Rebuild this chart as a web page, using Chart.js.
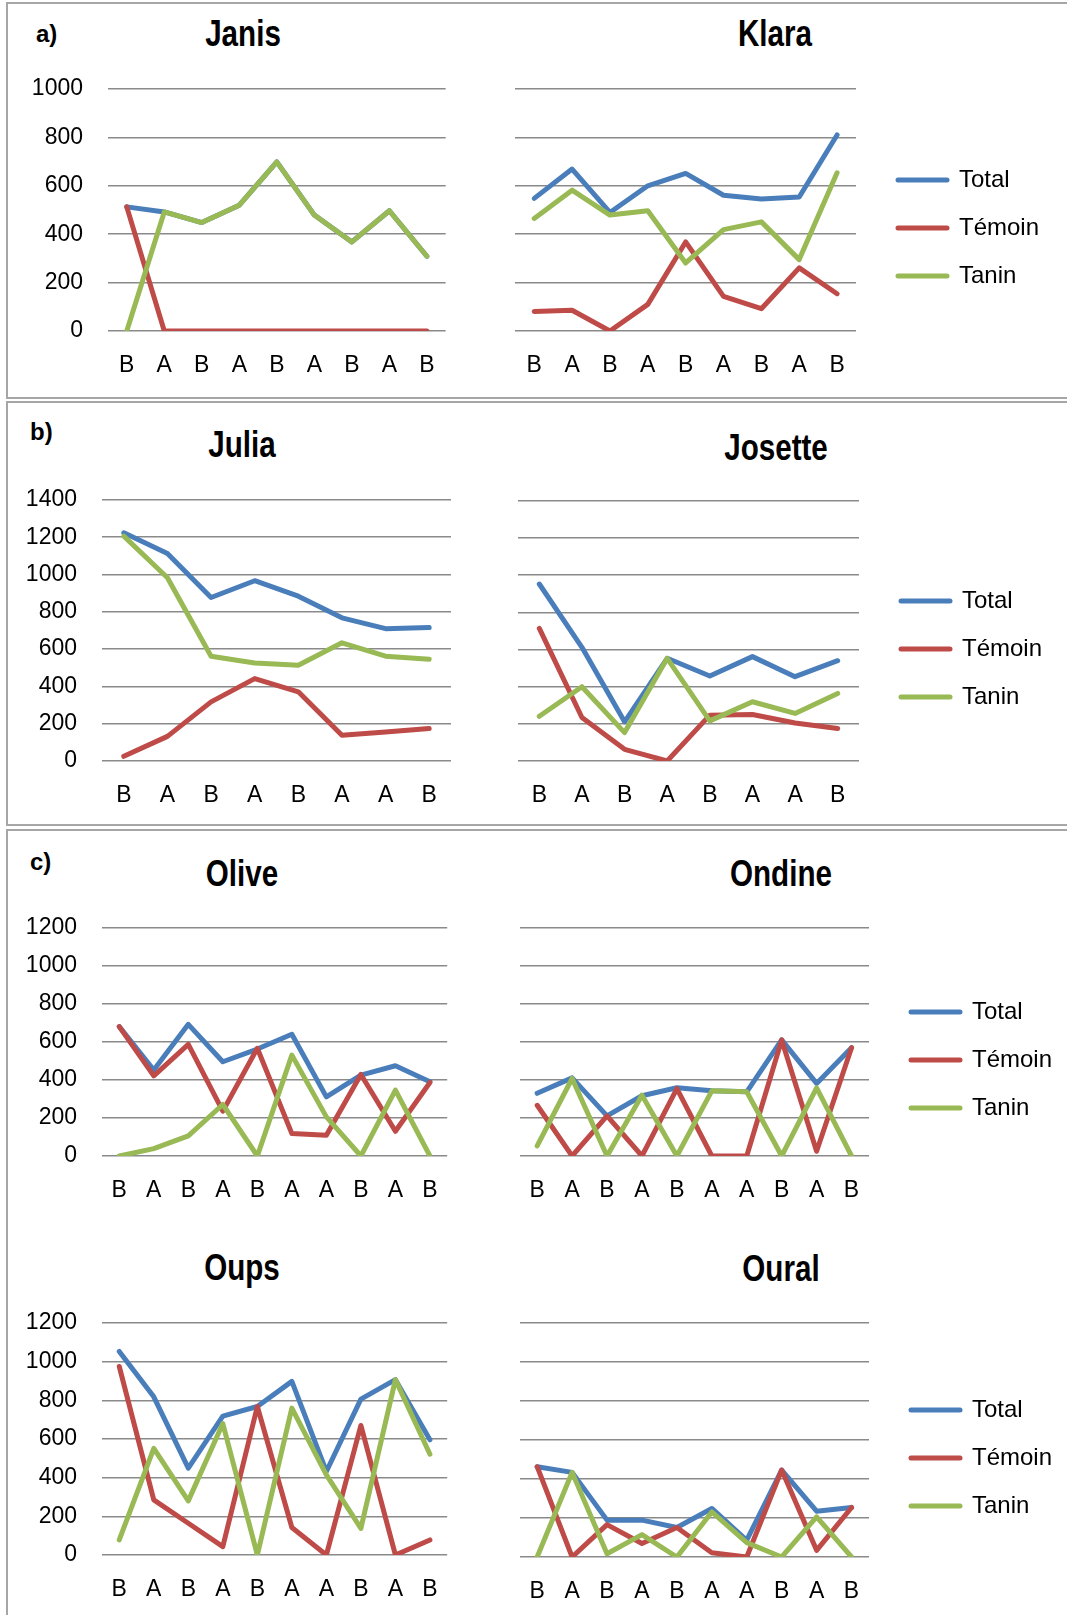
<!DOCTYPE html>
<html>
<head>
<meta charset="utf-8">
<script src="https://cdn.jsdelivr.net/npm/chart.js@4.4.1/dist/chart.umd.min.js"></script>
<style>
html,body{margin:0;padding:0;background:#fff;}
body{width:1067px;height:1615px;position:relative;overflow:hidden;font-family:"Liberation Sans",Arial,sans-serif;}
.box{position:absolute;border:2px solid #a6a6a6;box-sizing:border-box;}
.title{position:absolute;font-weight:bold;font-size:37px;line-height:1;white-space:nowrap;color:#000;transform:translate(-50%,-50%) scaleX(0.8);}
.panel{position:absolute;font-weight:bold;font-size:24px;line-height:1;white-space:nowrap;color:#000;transform:translate(0,-50%);}
.wrap{position:absolute;}
</style>
</head>
<body>
<div class="box" style="left:6px;top:2px;width:1080px;height:397px;"></div>
<div class="box" style="left:6px;top:401px;width:1080px;height:425px;"></div>
<div class="box" style="left:6px;top:829px;width:1080px;height:800px;"></div>

<div class="panel" style="left:36px;top:34px;">a)</div>
<div class="panel" style="left:30px;top:432px;">b)</div>
<div class="panel" style="left:30px;top:862px;">c)</div>

<div class="title" style="left:243px;top:33px;">Janis</div>
<div class="title" style="left:775px;top:33px;">Klara</div>
<div class="title" style="left:242px;top:444px;">Julia</div>
<div class="title" style="left:776px;top:447px;">Josette</div>
<div class="title" style="left:242px;top:873px;">Olive</div>
<div class="title" style="left:781px;top:873px;">Ondine</div>
<div class="title" style="left:242px;top:1267px;">Oups</div>
<div class="title" style="left:781px;top:1268px;">Oural</div>

<script>
// ---------- DATA ----------
const seriesNames = ['Total', 'Témoin', 'Tanin'];

const janisLabels = ['B','A','B','A','B','A','B','A','B'];
const janisTotal  = [513, 492, 448, 520, 699, 479, 368, 497, 309];
const janisTemoin = [513, 0, 0, 0, 0, 0, 0, 0, 0];
const janisTanin  = [0, 492, 448, 520, 699, 479, 368, 497, 309];

const klaraLabels = ['B','A','B','A','B','A','B','A','B'];
const klaraTotal  = [548, 669, 490, 600, 651, 561, 545, 554, 810];
const klaraTemoin = [81, 86, 0, 110, 368, 143, 92, 261, 154];
const klaraTanin  = [465, 582, 479, 497, 281, 419, 451, 295, 654];

const juliaLabels = ['B','A','B','A','B','A','A','B'];
const juliaTotal  = [1224, 1113, 877, 967, 884, 768, 710, 716];
const juliaTemoin = [25, 132, 317, 442, 371, 138, 156, 174];
const juliaTanin  = [1206, 983, 562, 526, 514, 634, 562, 546];

const josetteLabels = ['B','A','B','A','B','A','A','B'];
const josetteTotal  = [953, 612, 211, 553, 458, 562, 454, 540];
const josetteTemoin = [714, 234, 63, 0, 247, 250, 205, 175];
const josetteTanin  = [241, 400, 153, 553, 216, 319, 256, 364];

const oliveLabels = ['B','A','B','A','B','A','A','B','A','B'];
const oliveTotal  = [681, 452, 693, 496, 563, 641, 311, 426, 475, 391];
const oliveTemoin = [681, 422, 588, 236, 567, 118, 109, 429, 130, 387];
const oliveTanin  = [0, 39, 106, 271, 0, 531, 206, 0, 347, 0];

const ondineLabels = ['B','A','B','A','B','A','A','B','A','B'];
const ondineTotal  = [330, 411, 211, 317, 359, 343, 338, 611, 382, 570];
const ondineTemoin = [267, 0, 211, 0, 355, 0, 0, 611, 25, 570];
const ondineTanin  = [53, 408, 0, 320, 0, 343, 338, 0, 359, 0];

const oupsLabels = ['B','A','B','A','B','A','A','B','A','B'];
const oupsTotal  = [1053, 818, 449, 718, 768, 898, 432, 806, 907, 596];
const oupsTemoin = [975, 285, 164, 43, 768, 142, 0, 670, 0, 78];
const oupsTanin  = [78, 552, 280, 680, 0, 760, 414, 138, 907, 521];

const ouralLabels = ['B','A','B','A','B','A','A','B','A','B'];
const ouralTotal  = [463, 434, 189, 189, 151, 249, 86, 446, 235, 254];
const ouralTemoin = [463, 0, 166, 69, 151, 22, 0, 446, 34, 254];
const ouralTanin  = [0, 434, 17, 115, 0, 231, 74, 0, 206, 0];

const yMaxA = 1000, yMaxB = 1400, yMaxC = 1200, yStep = 200;

// ---------- STYLE ----------
const COLORS = ['#4A7EBB', '#BE4B48', '#98B954'];
const FONT = '"Liberation Sans", Arial, sans-serif';
const LEG_W = 150;
const LINE_W = 5;

// moves the legend block next to the plot and widens its clip box so labels are not cut
const legendShift = {
  id: 'legendShift',
  afterLayout(chart, args, opts) {
    const lg = chart.legend;
    if (!lg || !chart.options.plugins.legend.display) return;
    lg.left += opts.dx;
    lg.right = chart.width;
    lg.top += opts.dy; lg.bottom += opts.dy;
  }
};

function makeChart(area, labels, total, temoin, tanin, yMax, leftSide) {
  const padTop = 40, xH = 60;
  let cLeft, yW, padRight, cWidth;
  if (leftSide) {
    cLeft = 0; yW = area.L - cLeft; padRight = 8;
    cWidth = area.R - cLeft + padRight;
  } else {
    cLeft = area.L - 10; yW = 10; padRight = 42;
    cWidth = area.R - cLeft + LEG_W + padRight;
  }
  const cTop = area.T - padTop;
  const cHeight = (area.B - area.T) + padTop + xH;
  const wrap = document.createElement('div');
  wrap.className = 'wrap';
  wrap.style.left = cLeft + 'px'; wrap.style.top = cTop + 'px';
  wrap.style.width = cWidth + 'px'; wrap.style.height = cHeight + 'px';
  const canvas = document.createElement('canvas');
  canvas.width = cWidth; canvas.height = cHeight;
  wrap.appendChild(canvas);
  document.body.appendChild(wrap);

  const series = [total, temoin, tanin];
  const datasets = series.map((d, i) => ({
    label: seriesNames[i],
    data: d,
    borderColor: COLORS[i],
    backgroundColor: COLORS[i],
    borderWidth: LINE_W,
    borderCapStyle: 'round',
    borderJoinStyle: 'round',
    pointRadius: 0,
    pointHoverRadius: 0,
    tension: 0,
    fill: false,
    order: 3 - i
  }));

  new Chart(canvas, {
    type: 'line',
    data: { labels: labels, datasets: datasets },
    plugins: [legendShift],
    options: {
      responsive: false,
      animation: false,
      devicePixelRatio: 1,
      layout: { padding: { top: padTop, right: padRight, left: 0, bottom: 0 } },
      plugins: {
        title: { display: false },
        tooltip: { enabled: false },
        legendShift: { dx: 18, dy: 18 },
        legend: {
          display: !leftSide,
          position: 'right',
          align: 'center',
          fullSize: false,
          maxWidth: LEG_W,
          labels: {
            usePointStyle: true,
            pointStyleWidth: 49,
            padding: 24,
            color: '#000',
            font: { family: FONT, size: 24 },
            generateLabels(chart) {
              return chart.data.datasets.map((d, i) => ({
                text: d.label,
                fillStyle: d.borderColor,
                strokeStyle: d.borderColor,
                lineWidth: LINE_W,
                lineCap: 'round',
                pointStyle: 'line',
                hidden: false,
                datasetIndex: i,
                fontColor: '#000'
              }));
            }
          }
        }
      },
      scales: {
        x: {
          type: 'category',
          offset: true,
          grid: { display: false, drawTicks: false },
          border: { display: false },
          ticks: { color: '#000', font: { family: FONT, size: 23 }, padding: 21, maxRotation: 0, autoSkip: false },
          afterFit(s) { s.height = xH; }
        },
        y: {
          min: 0,
          max: yMax,
          grid: { color: '#8a8a8a', lineWidth: 1.6, drawTicks: false },
          border: { display: false },
          ticks: { display: leftSide, stepSize: yStep, color: '#000', font: { family: FONT, size: 23 }, padding: 25,
                   callback: (v) => String(v) },
          afterFit(s) { s.width = yW; }
        }
      }
    }
  });
}

makeChart({L:108, R:448, T:89,   B:331},  janisLabels,   janisTotal,   janisTemoin,   janisTanin,   yMaxA, true);
makeChart({L:515, R:856, T:89,   B:331},  klaraLabels,   klaraTotal,   klaraTemoin,   klaraTanin,   yMaxA, false);
makeChart({L:102, R:451, T:500,  B:761},  juliaLabels,   juliaTotal,   juliaTemoin,   juliaTanin,   yMaxB, true);
makeChart({L:518, R:859, T:501,  B:761},  josetteLabels, josetteTotal, josetteTemoin, josetteTanin, yMaxB, false);
makeChart({L:102, R:451, T:928,  B:1156}, oliveLabels,   oliveTotal,   oliveTemoin,   oliveTanin,   yMaxC, true);
makeChart({L:518, R:869, T:928,  B:1156}, ondineLabels,  ondineTotal,  ondineTemoin,  ondineTanin,  yMaxC, false);
makeChart({L:102, R:451, T:1323, B:1555}, oupsLabels,    oupsTotal,    oupsTemoin,    oupsTanin,    yMaxC, true);
makeChart({L:518, R:869, T:1323, B:1557}, ouralLabels,   ouralTotal,   ouralTemoin,   ouralTanin,   yMaxC, false);
</script>
</body>
</html>
